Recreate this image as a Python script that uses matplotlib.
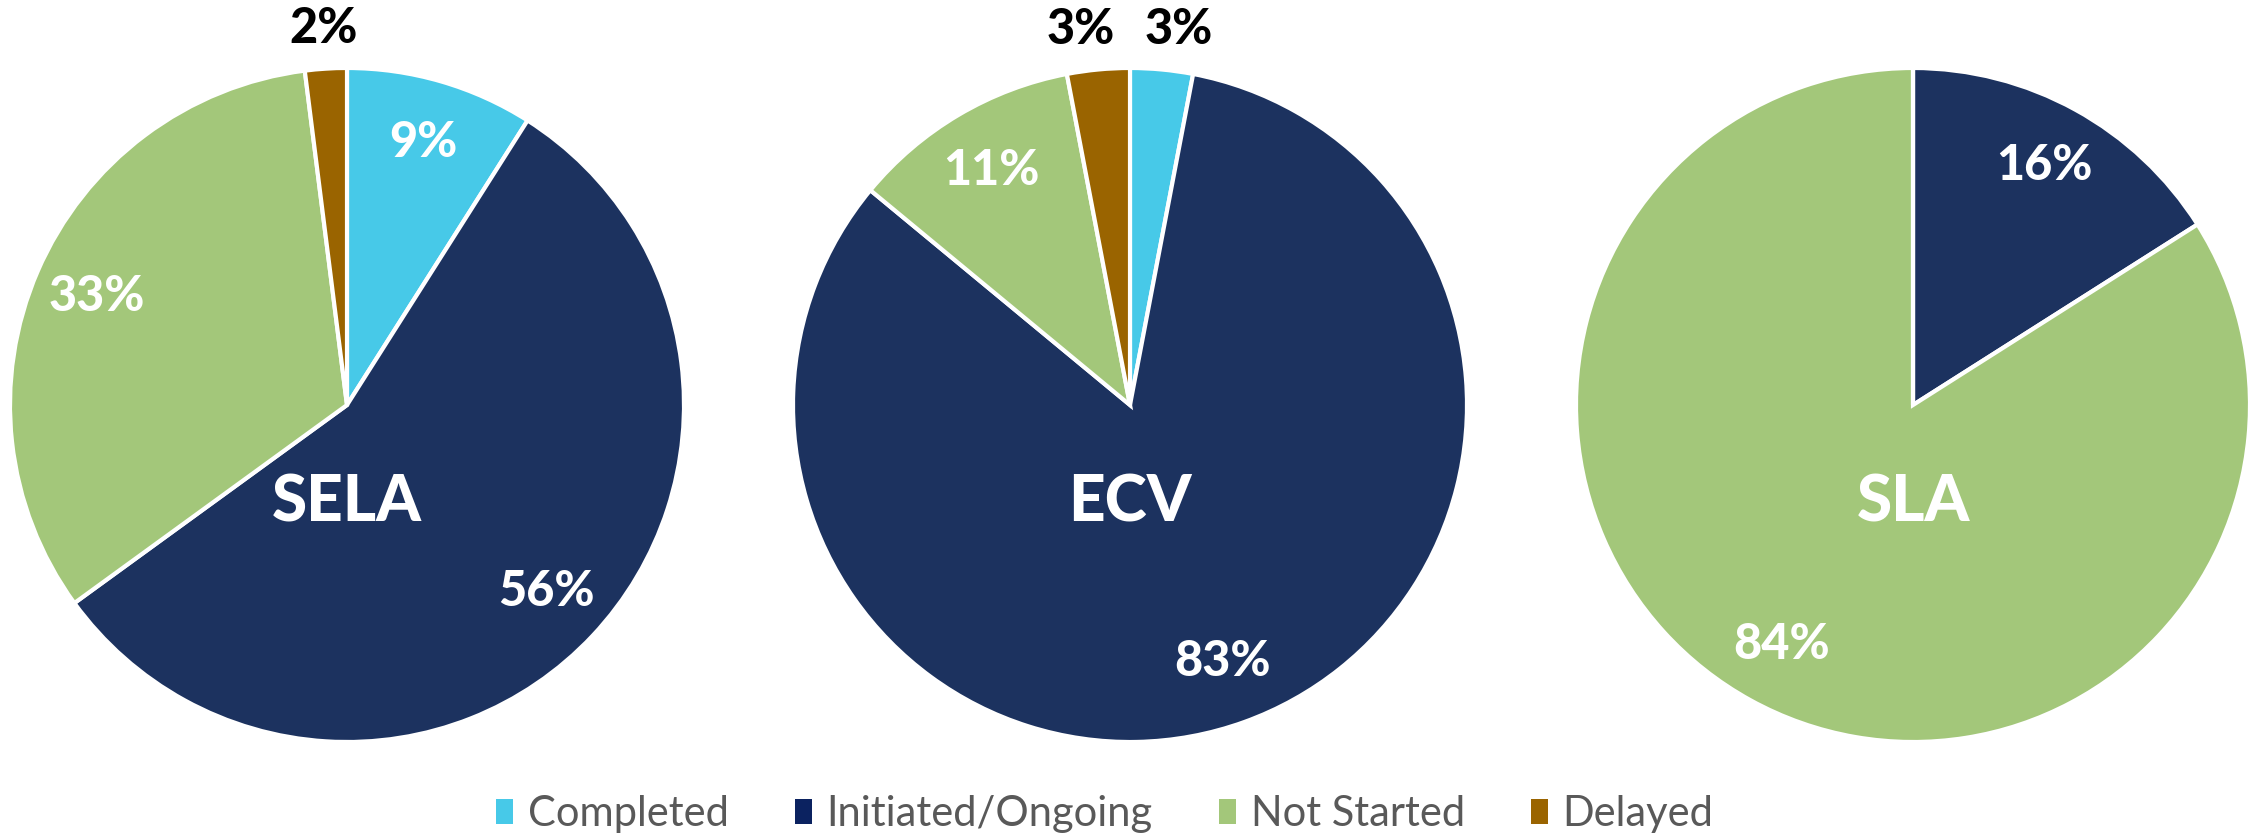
import matplotlib.pyplot as plt
import numpy as np
from matplotlib.patches import Patch

categories = ["Completed", "Initiated/Ongoing", "Not Started", "Delayed"]
regions = ["SELA", "ECV", "SLA"]
sela = [9, 56, 33, 2]
ecv = [3, 83, 11, 3]
sla = [0, 16, 84, 0]

colors = ["#47C9E8", "#1C325F", "#A3C77A", "#9A6400"]
legend_colors = ["#47C9E8", "#0B2260", "#A3C77A", "#9A6400"]

W, H = 2260, 835
fig = plt.figure(figsize=(W / 100, H / 100), dpi=100)

R = 337
centers = [(347, 405), (1130, 405), (1913, 405)]
fam = ["Lato", "DejaVu Sans"]

for name, vals, (cx, cy) in zip(regions, [sela, ecv, sla], centers):
    ax = fig.add_axes([(cx - R) / W, (H - cy - R) / H, 2 * R / W, 2 * R / H])
    wedges, _ = ax.pie(vals, colors=colors, startangle=90, counterclock=False,
                       radius=1, wedgeprops=dict(edgecolor="white", linewidth=3))
    ax.set_xlim(-1, 1)
    ax.set_ylim(-1, 1)
    ax.set_aspect("equal")
    ax.axis("off")
    n_small = sum(1 for v in vals if 0 < v < 5)
    for w, v in zip(wedges, vals):
        if v == 0:
            continue
        ang = np.deg2rad((w.theta1 + w.theta2) / 2)
        if v < 5:
            # small slices: label outside; push apart if two sit next to each other
            push = 0.04 if n_small > 1 else 0
            x = 1.12 * np.cos(ang) + push * np.sign(np.cos(ang))
            y = 1.12 * np.sin(ang)
            col = "black"
        else:
            x, y = 0.81 * np.cos(ang), 0.81 * np.sin(ang)
            col = "white"
        ax.text(x, y, f"{v}%", ha="center", va="center", fontsize=35,
                fontweight="black", color=col, family=fam)
    ax.text(0, -0.29, name, ha="center", va="center", fontsize=46, fontweight="black",
            color="white", family=fam)

handles = [Patch(facecolor=c, edgecolor="none") for c in legend_colors]
fig.legend(handles, categories, loc="center", bbox_to_anchor=(1105 / W, 1 - 814 / H),
           ncol=4, frameon=False, handlelength=0.4, handleheight=0.55, handletextpad=0.35,
           columnspacing=1.6, prop=dict(family="Lato", size=30), labelcolor="#595959")

plt.savefig("out.png", dpi=100)
